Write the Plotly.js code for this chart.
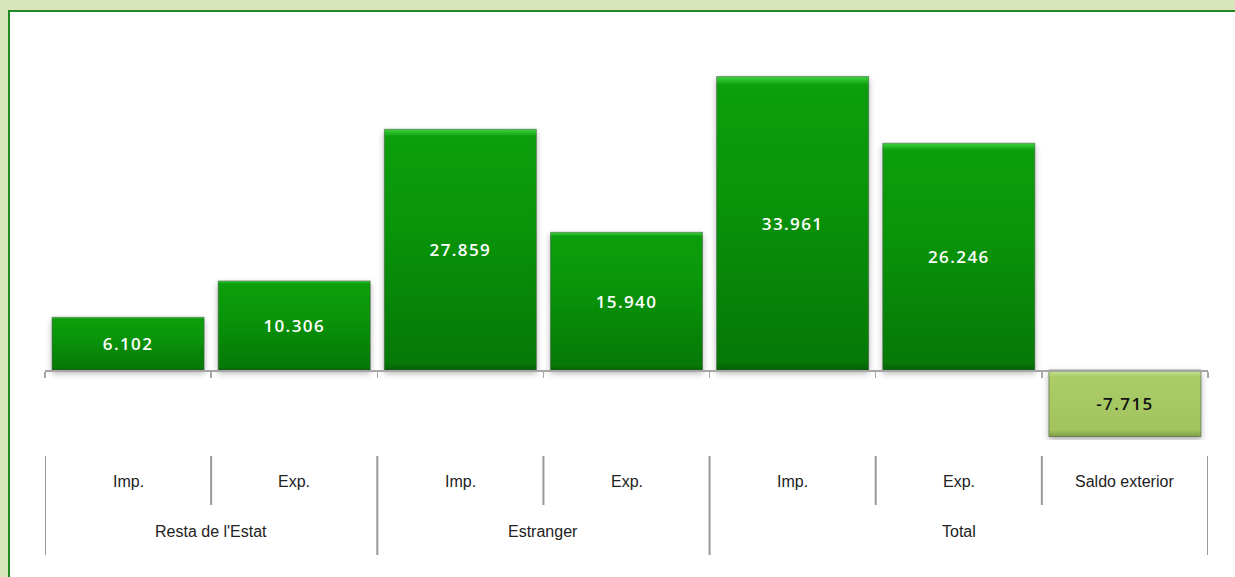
<!DOCTYPE html>
<html>
<head>
<meta charset="utf-8">
<script src="https://cdn.plot.ly/plotly-3.0.1.min.js"></script>
<style>
  html, body { margin: 0; padding: 0; background: #d8e4bc; overflow: hidden; }
  #panel { position: absolute; left: 8px; top: 10px; width: 1230px; height: 575px;
           border: 2px solid #1f8a22; background: #ffffff; }
  #chart { width: 1225px; height: 570px; }
  .bartext { letter-spacing: 1.4px; }
  .bars .point path { filter: drop-shadow(0px 3px 3px rgba(0,0,0,0.30)); }
</style>
</head>
<body>
<div id="panel"><div id="chart"></div></div>
<script>
// ---- data ----
const categories = ["Imp.", "Exp.", "Imp.", "Exp.", "Imp.", "Exp.", "Saldo exterior"];
const groups = ["Resta de l'Estat", "Resta de l'Estat", "Estranger", "Estranger", "Total", "Total", "Total"];
const values = [6.102, 10.306, 27.859, 15.940, 33.961, 26.246, -7.715];

// ---- styles ----
const posColor = '#098f09';
const negColor = '#a7c965';
const xIdx = categories.map((c, i) => i);
const barColors = values.map(v => v < 0 ? negColor : posColor);
const textColors = values.map(v => v < 0 ? '#111111' : '#ffffff');

const yRange = [-8.10, 38.19];
const zeroPos = (0 - yRange[0]) / (yRange[1] - yRange[0]);

const trace = {
  type: 'bar',
  x: xIdx,
  y: values,
  marker: { color: barColors, line: { color: 'rgba(70,90,70,0.55)', width: 1 } },
  text: values.map(v => v.toFixed(3)),
  textposition: 'inside',
  insidetextanchor: 'middle',
  constraintext: 'none',
  textangle: 0,
  textfont: { family: 'Open Sans, sans-serif', size: 17, weight: 600, color: textColors },
  hoverinfo: 'none',
  cliponaxis: false
};

// boundaries between categories
const bounds = [];
for (let i = 0; i <= categories.length; i++) bounds.push(i - 0.5);

// group spans
const groupSpans = [];
groups.forEach((g, i) => {
  const last = groupSpans[groupSpans.length - 1];
  if (last && last.name === g) last.end = i; else groupSpans.push({ name: g, start: i, end: i });
});

const labelFont = { family: 'Liberation Sans, Arial, sans-serif', size: 16, color: '#222222' };
const annotations = [];
categories.forEach((c, i) => annotations.push({
  x: i, y: -0.1025, xref: 'x', yref: 'paper', text: c, showarrow: false,
  font: labelFont, xanchor: 'center', yanchor: 'middle'
}));
groupSpans.forEach(s => annotations.push({
  x: (s.start + s.end) / 2, y: -0.2275, xref: 'x', yref: 'paper', text: s.name, showarrow: false,
  font: labelFont, xanchor: 'center', yanchor: 'middle'
}));

const groupEdges = new Set([-0.5]);
groupSpans.forEach(s => groupEdges.add(s.end + 0.5));
const shapes = bounds.map(b => ({
  type: 'line', xref: 'x', yref: 'paper', x0: b, x1: b,
  y0: -0.04, y1: groupEdges.has(b) ? -0.2875 : -0.1625,
  line: { color: '#9a9a9a', width: 2 }
}));

const layout = {
  width: 1225, height: 570,
  margin: { l: 35, r: 27, t: 28, b: 142 },
  paper_bgcolor: '#ffffff', plot_bgcolor: '#ffffff',
  showlegend: false,
  bargap: 0.085,
  xaxis: {
    range: [-0.5, categories.length - 0.5],
    anchor: 'free', position: zeroPos,
    showline: true, linecolor: '#a6a6a6', linewidth: 1.5,
    ticks: 'outside', ticklen: 6, tickcolor: '#a6a6a6', tickwidth: 1.5,
    tickvals: bounds, showticklabels: false, showgrid: false, zeroline: false, fixedrange: true
  },
  yaxis: {
    range: yRange, visible: false, showgrid: false, zeroline: false, fixedrange: true
  },
  annotations: annotations,
  shapes: shapes
};

Plotly.newPlot('chart', [trace], layout, { displayModeBar: false, staticPlot: true }).then(gd => {
  // add a subtle vertical bevel gradient to the bars
  const svg = gd.querySelector('.main-svg');
  const ns = 'http://www.w3.org/2000/svg';
  let defs = svg.querySelector('defs');
  if (!defs) { defs = document.createElementNS(ns, 'defs'); svg.insertBefore(defs, svg.firstChild); }
  function grad(id, stops) {
    const g = document.createElementNS(ns, 'linearGradient');
    g.setAttribute('id', id); g.setAttribute('x1', '0'); g.setAttribute('y1', '0');
    g.setAttribute('x2', '0'); g.setAttribute('y2', '1');
    stops.forEach(([o, c]) => {
      const s = document.createElementNS(ns, 'stop');
      s.setAttribute('offset', o); s.setAttribute('stop-color', c); g.appendChild(s);
    });
    defs.appendChild(g);
  }
  grad('gPos', [[0, '#3fd43f'], [0.03, '#0c9e0c'], [0.4, '#099509'], [0.97, '#067806'], [1, '#055f05']]);
  grad('gNeg', [[0, '#c9e896'], [0.1, '#aacd68'], [0.9, '#a2c45e'], [1, '#7e9d45']]);
  gd.querySelectorAll('.bars .point').forEach((pt, i) => {
    const p = pt.querySelector('path');
    if (p) p.style.fill = values[i] < 0 ? 'url(#gNeg)' : 'url(#gPos)';
  });
});
</script>
</body>
</html>
